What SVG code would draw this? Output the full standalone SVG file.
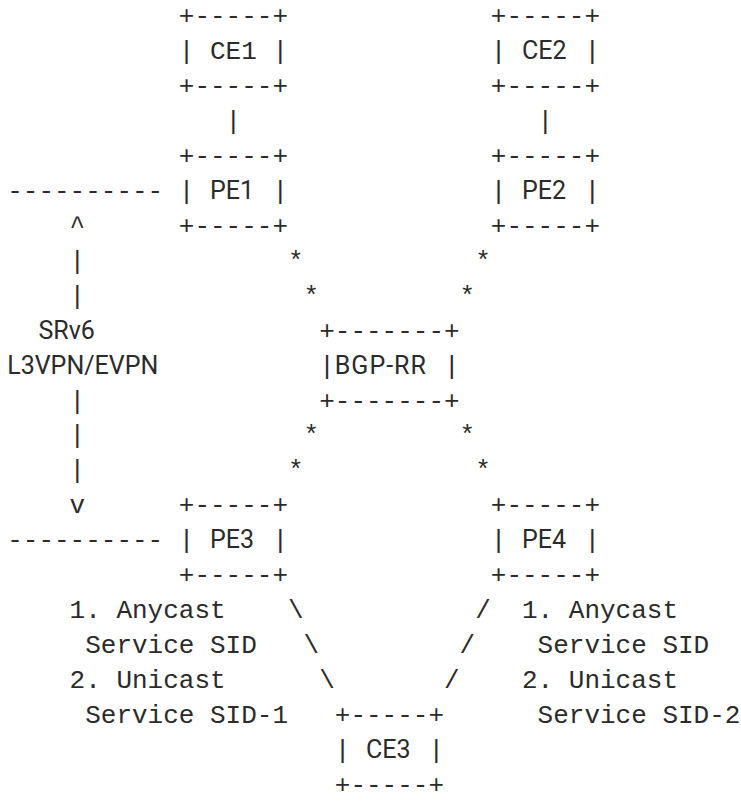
<svg xmlns="http://www.w3.org/2000/svg" width="741" height="810" viewBox="0 0 741 810">
<style>
text{fill:#2b2b2b}
.m{font-family:"Liberation Mono","DejaVu Sans Mono",monospace;font-size:26px}
.s{font-family:Roboto,"Liberation Sans",sans-serif;font-size:25px}
</style>
<rect width="741" height="810" fill="#ffffff"/>
<g id="CE1">
<text class="m" x="178.8" y="24">+-----+</text>
<text class="m" x="178.8" y="59">|</text>
<text class="m" x="210" y="59">CE1</text>
<text class="m" x="272.4" y="59">|</text>
<text class="m" x="178.8" y="93.9">+-----+</text>
</g>
<g id="CE2">
<text class="m" x="490.8" y="24">+-----+</text>
<text class="m" x="490.8" y="59">|</text>
<text class="s" x="522" y="59">CE2</text>
<text class="m" x="584.4" y="59">|</text>
<text class="m" x="490.8" y="93.9">+-----+</text>
</g>
<g id="PE1">
<text class="m" x="178.8" y="163.8">+-----+</text>
<text class="m" x="178.8" y="198.8">|</text>
<text class="s" x="210" y="198.8">PE1</text>
<text class="m" x="272.4" y="198.8">|</text>
<text class="m" x="178.8" y="233.7">+-----+</text>
</g>
<g id="PE2">
<text class="m" x="490.8" y="163.8">+-----+</text>
<text class="m" x="490.8" y="198.8">|</text>
<text class="s" x="522" y="198.8">PE2</text>
<text class="m" x="584.4" y="198.8">|</text>
<text class="m" x="490.8" y="233.7">+-----+</text>
</g>
<g id="BGP-RR">
<text class="m" x="319.2" y="338.6">+-------+</text>
<text class="m" x="319.2" y="373.5">|</text>
<text class="s" x="334.8" y="373.5" letter-spacing="1">BGP-RR</text>
<text class="m" x="444" y="373.5">|</text>
<text class="m" x="319.2" y="408.5">+-------+</text>
</g>
<g id="PE3">
<text class="m" x="178.8" y="513.3">+-----+</text>
<text class="m" x="178.8" y="548.3">|</text>
<text class="s" x="210" y="548.3">PE3</text>
<text class="m" x="272.4" y="548.3">|</text>
<text class="m" x="178.8" y="583.2">+-----+</text>
</g>
<g id="PE4">
<text class="m" x="490.8" y="513.3">+-----+</text>
<text class="m" x="490.8" y="548.3">|</text>
<text class="s" x="522" y="548.3">PE4</text>
<text class="m" x="584.4" y="548.3">|</text>
<text class="m" x="490.8" y="583.2">+-----+</text>
</g>
<g id="CE3">
<text class="m" x="334.8" y="723">+-----+</text>
<text class="m" x="334.8" y="758">|</text>
<text class="s" x="366" y="758">CE3</text>
<text class="m" x="428.4" y="758">|</text>
<text class="m" x="334.8" y="792.9">+-----+</text>
</g>
<g id="connectors">
<text class="m" x="225.6" y="128.9">|</text>
<text class="m" x="537.6" y="128.9">|</text>
<text class="m" x="288" y="268.7">*</text>
<text class="m" x="475.2" y="268.7">*</text>
<text class="m" x="303.6" y="303.6">*</text>
<text class="m" x="459.6" y="303.6">*</text>
<text class="m" x="303.6" y="443.4">*</text>
<text class="m" x="459.6" y="443.4">*</text>
<text class="m" x="288" y="478.4">*</text>
<text class="m" x="475.2" y="478.4">*</text>
<text class="m" x="288" y="618.2">\</text>
<text class="m" x="303.6" y="653.1">\</text>
<text class="m" x="319.2" y="688.1">\</text>
<text class="m" x="475.2" y="618.2">/</text>
<text class="m" x="459.6" y="653.1">/</text>
<text class="m" x="444" y="688.1">/</text>
</g>
<g id="srv6-span">
<text class="m" x="7.2" y="198.8">----------</text>
<text class="m" x="69.6" y="233.7">^</text>
<text class="m" x="69.6" y="268.7">|</text>
<text class="m" x="69.6" y="303.6">|</text>
<text class="s" x="38.4" y="338.6">SRv6</text>
<text class="s" x="7.2" y="373.5">L3VPN/EVPN</text>
<text class="m" x="69.6" y="408.5">|</text>
<text class="m" x="69.6" y="443.4">|</text>
<text class="m" x="69.6" y="478.4">|</text>
<text class="m" x="69.6" y="513.3">v</text>
<text class="m" x="7.2" y="548.3">----------</text>
</g>
<g id="labels">
<text class="m" x="69.6" y="618.2">1. Anycast</text>
<text class="m" x="85.2" y="653.1">Service SID</text>
<text class="m" x="69.6" y="688.1">2. Unicast</text>
<text class="m" x="85.2" y="723">Service SID-1</text>
<text class="m" x="522" y="618.2">1. Anycast</text>
<text class="m" x="537.6" y="653.1">Service SID</text>
<text class="m" x="522" y="688.1">2. Unicast</text>
<text class="m" x="537.6" y="723">Service SID-2</text>
</g>
</svg>
